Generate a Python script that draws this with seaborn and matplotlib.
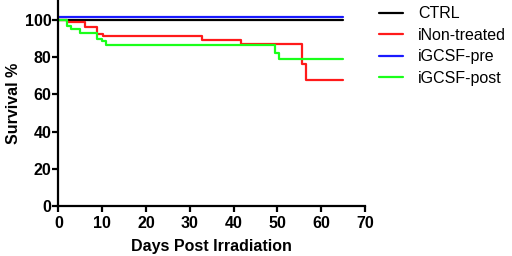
"""Survival curves after irradiation"""

import numpy as np
import pandas as pd
import seaborn as sns
import matplotlib
matplotlib.use('Agg')
import matplotlib.pyplot as plt

groups = ['CTRL', 'iNon-treated', 'iGCSF-pre', 'iGCSF-post']
colors = ['black', '#ff1a1a', '#1a1aff', '#1aff1a']

ctrl_days = [0, 65]
ctrl_surv = [100, 100]

nontreated_days = [0, 1.9, 6.0, 8.9, 10.2, 32.7, 41.6, 55.5, 56.6, 65]
nontreated_surv = [100, 98.9, 96.3, 92.2, 91.3, 89.1, 86.8, 76.1, 67.6, 67.6]

pre_days = [0, 65]
pre_surv = [101.6, 101.6]

post_days = [0, 1.9, 2.9, 4.9, 8.9, 9.9, 10.8, 49.4, 50.4, 65]
post_surv = [100, 96.9, 95.2, 93.1, 89.8, 88.6, 86.3, 82.4, 78.8, 78.8]


def main():
    """Run the program."""

    rows = []
    for name, days, surv in zip(groups,
                                [ctrl_days, nontreated_days, pre_days, post_days],
                                [ctrl_surv, nontreated_surv, pre_surv, post_surv]):
        for d, s in zip(days, surv):
            rows.append([name, d, s])
    df = pd.DataFrame(rows, columns=['group', 'day', 'survival'])

    sns.set_style('ticks')
    plt.rcParams['font.family'] = ['Liberation Sans', 'DejaVu Sans']
    for key in ['text.color', 'axes.labelcolor', 'xtick.color', 'ytick.color',
                'axes.edgecolor']:
        plt.rcParams[key] = 'black'

    fig = plt.figure(figsize=(5.12, 2.56), dpi=100)
    ax = fig.add_axes([0.114, 0.195, 0.599, 0.8])

    sns.lineplot(data=df, x='day', y='survival', hue='group', hue_order=groups,
                 palette=colors, drawstyle='steps-post', estimator=None,
                 sort=False, linewidth=1.6, ax=ax)

    ax.set_xlim(0, 70)
    ax.set_ylim(0, 110)
    ax.set_xticks(np.arange(0, 71, 10))
    ax.set_yticks(np.arange(0, 101, 20))
    ax.set_xlabel('Days Post Irradiation', fontsize=11.5, fontweight='bold',
                  labelpad=6)
    ax.set_ylabel('Survival %', fontsize=11.5, fontweight='bold', labelpad=3)
    ax.tick_params(width=1.6, length=4, labelsize=11.5)
    ax.tick_params(axis='x', pad=3)
    ax.tick_params(axis='y', pad=1)
    for lab in ax.get_xticklabels() + ax.get_yticklabels():
        lab.set_fontweight('bold')
    for side in ['left', 'bottom']:
        ax.spines[side].set_linewidth(1.6)
    sns.despine(ax=ax)

    leg = ax.legend(loc='upper left', bbox_to_anchor=(1.0, 1.045), frameon=False,
                    fontsize=11.5, handlelength=1.5, handletextpad=0.9,
                    labelspacing=0.4)
    for line in leg.get_lines():
        line.set_linewidth(1.6)

    plt.savefig('out.png', dpi=100)


if __name__ == '__main__':
    main()
